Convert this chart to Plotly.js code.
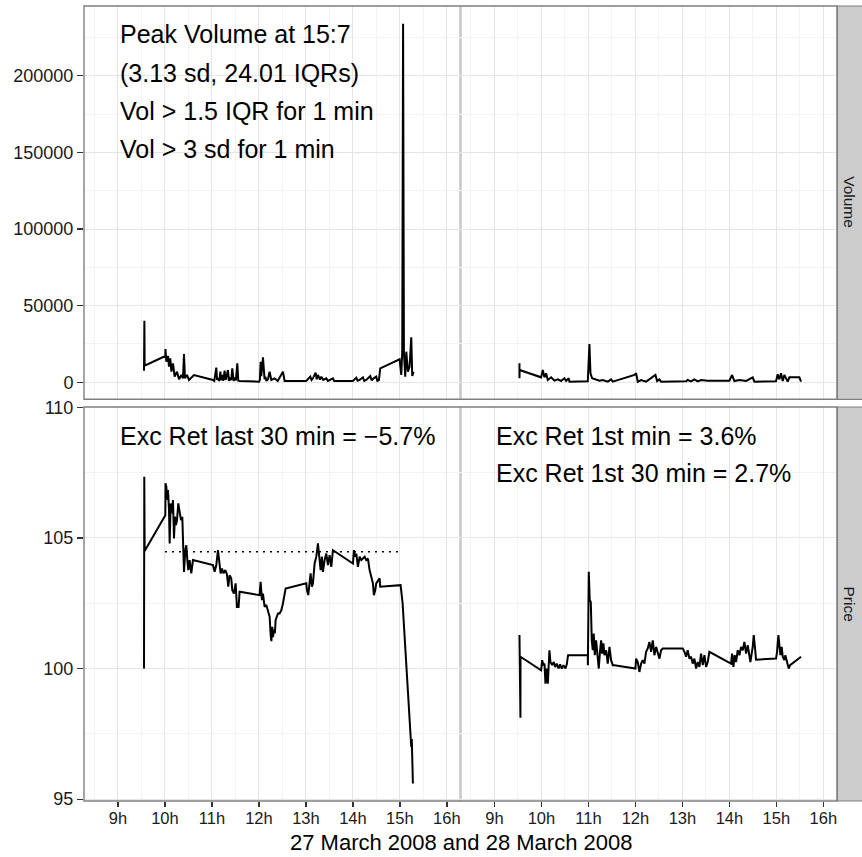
<!DOCTYPE html>
<html>
<head>
<meta charset="utf-8">
<script src="https://cdn.plot.ly/plotly-3.0.1.min.js"></script>
<style>html,body{margin:0;padding:0;background:#fff;}#chart{width:862px;height:857px;}</style>
</head>
<body>
<div id="chart"></div>
<script>
// ---------- data (hours of the trading day, decimal) ----------
const hourTicks = [9, 10, 11, 12, 13, 14, 15, 16];
const hourLabels = ["9h", "10h", "11h", "12h", "13h", "14h", "15h", "16h"];
const volumeTicks = [0, 50000, 100000, 150000, 200000];
const volumeLabels = ["0", "50000", "100000", "150000", "200000"];
const priceTicks = [95, 100, 105, 110];
const priceLabels = ["95", "100", "105", "110"];
const rowLabels = ["Volume", "Price"];
const xTitle = "27 March 2008 and 28 March 2008";

// Day 1 (27 March 2008) volume
const vol1Time = [9.554, 9.562, 9.568, 10.008, 10.010, 10.029, 10.065, 10.086, 10.114, 10.136, 10.171, 10.206, 10.256, 10.299, 10.348, 10.384, 10.405, 10.426, 10.469, 10.511, 10.618, 11.022,
  11.05, 11.093, 11.11, 11.128, 11.16, 11.178, 11.2, 11.221, 11.24, 11.27, 11.29, 11.306, 11.341, 11.36, 11.377, 11.41, 11.433, 11.46, 11.483, 11.51, 11.54, 11.56, 11.589,
  12.001, 12.02, 12.036, 12.05, 12.086, 12.107, 12.12, 12.136, 12.16, 12.192, 12.228, 12.263, 12.334, 12.40, 12.511, 12.547,
  13.008, 13.093, 13.12, 13.15, 13.206, 13.23, 13.256, 13.3, 13.327, 13.37, 13.433, 13.47, 13.504, 13.575, 13.60,
  14.001, 14.072, 14.1, 14.143, 14.213, 14.24, 14.284, 14.37, 14.40, 14.44, 14.497, 14.52, 14.554, 14.582,
  14.994, 15.029, 15.05, 15.068, 15.086, 15.114, 15.136, 15.171, 15.206, 15.242, 15.263, 15.291];
const vol1Value = [7585, 40190, 10850, 17150, 21710, 13450, 17150, 10190, 15630, 6930, 12370, 3670, 6930, 1935, 4760, 2590, 18450, 2590, 4760, 1500, 4760, 1500,
  850, 9540, 1500, 2590, 900, 6930, 1500, 4760, 900, 7585, 1500, 3000, 8020, 900, 2590, 1500, 9110, 900, 3000, 1200, 12370, 1000, 850,
  410, 1500, 13450, 4000, 16280, 10190, 2000, 3670, 900, 2000, 6930, 1500, 2590, 850, 6930, 850,
  850, 3670, 1500, 2590, 6280, 2000, 4760, 1800, 3670, 1500, 2590, 900, 1500, 2590, 850,
  850, 3020, 1000, 1500, 3240, 900, 1500, 4110, 1200, 2590, 3670, 1000, 1500, 9110,
  14980, 4760, 20000, 234000, 18900, 3670, 19970, 6930, 10190, 29320, 4110, 6930];

// Day 2 (28 March 2008) volume
const vol2Time = [9.532, 9.532, 9.535, 9.993, 10.028, 10.064, 10.099, 10.135, 10.206, 10.277, 10.348, 10.418, 10.489, 10.525, 10.582, 10.596,
  10.986, 11.021, 11.043, 11.078, 11.128, 11.234, 11.305, 11.411, 11.482, 11.518,
  11.979, 12.014, 12.050, 12.121, 12.227, 12.426, 12.461, 12.511, 12.546,
  13.078, 13.113, 13.184, 13.255, 13.326, 13.397, 13.539, 14.0, 14.057, 14.106, 14.213, 14.355, 14.496, 14.532,
  14.993, 15.028, 15.064, 15.099, 15.135, 15.170, 15.241, 15.277, 15.489, 15.525];
const vol2Value = [12370, 2590, 8020, 3240, 8020, 3240, 5850, 1500, 3240, 1065, 1935, 850, 2590, 850, 2590, 410,
  630, 24970, 5850, 2590, 1935, 1065, 1500, 410, 1935, 410,
  4760, 5850, 410, 1500, 410, 4760, 850, 1935, 410,
  630, 1500, 630, 1935, 630, 1500, 1065, 1065, 4760, 850, 1500, 850, 3240, 410,
  630, 5200, 1935, 5850, 850, 4760, 410, 3240, 3240, 410];

// Day 1 price
const price1Time = [9.554, 9.560, 9.568, 10.008, 10.012, 10.029, 10.050, 10.065, 10.086, 10.100, 10.121, 10.149, 10.171, 10.192, 10.213, 10.235, 10.256, 10.284, 10.313, 10.341, 10.369,
  10.384, 10.405, 10.433, 10.454, 10.476, 10.497, 10.525, 10.560, 10.596,
  11.022, 11.057, 11.093, 11.128, 11.164, 11.185, 11.213, 11.248, 11.284, 11.319, 11.348, 11.376, 11.411, 11.433, 11.468, 11.504, 11.532, 11.567, 11.589,
  12.014, 12.036, 12.064, 12.086, 12.121, 12.157, 12.192, 12.228, 12.249, 12.265, 12.284, 12.30, 12.320, 12.34, 12.355, 12.405, 12.440, 12.476, 12.511, 12.547, 12.568,
  13.008, 13.022, 13.050, 13.079, 13.100, 13.128, 13.150, 13.185, 13.221, 13.256, 13.270, 13.291, 13.313, 13.341, 13.362, 13.398, 13.433, 13.469, 13.504, 13.540, 13.575,
  14.001, 14.022, 14.050, 14.072, 14.107, 14.143, 14.178, 14.213, 14.249, 14.284, 14.320, 14.355, 14.391, 14.426, 14.447, 14.476, 14.497, 14.532, 14.568, 14.582,
  15.015, 15.058, 15.09, 15.11, 15.13, 15.157, 15.185, 15.206, 15.228, 15.242, 15.253, 15.264, 15.277];
const price1Value = [100.00, 107.34, 104.50, 105.87, 107.09, 106.96, 106.45, 106.83, 106.07, 104.79, 106.32, 105.94, 106.45, 104.98, 105.81, 105.49, 105.68, 106.32, 105.87, 105.68, 105.81,
  105.04, 103.70, 104.53, 104.72, 104.15, 103.77, 104.15, 103.64, 104.15,
  103.96, 103.70, 103.96, 104.53, 104.02, 103.64, 103.83, 103.64, 103.77, 103.61, 103.13, 103.57, 103.45, 103.00, 102.87, 103.26, 102.36, 102.36, 102.94,
  102.81, 103.32, 102.62, 102.87, 102.36, 102.43, 102.23, 101.98, 101.30, 101.05, 101.60, 101.20, 101.50, 101.35, 101.85, 102.11, 102.11, 102.23, 102.49, 102.94, 103.06,
  103.26, 103.00, 102.81, 103.26, 103.64, 103.13, 103.26, 104.02, 104.28, 104.79, 104.53, 104.15, 103.77, 104.28, 103.70, 104.15, 104.40, 103.96, 104.34, 103.89, 104.53,
  104.02, 104.53, 104.28, 104.40, 103.89, 104.28, 104.15, 104.21, 104.28, 104.15, 104.21, 103.77, 103.51, 103.26, 102.81, 103.00, 103.26, 103.38, 103.45, 103.13,
  103.19, 102.50, 101.60, 100.80, 100.30, 99.56, 98.60, 98.00, 97.60, 97.00, 97.30, 96.60, 95.60];

// Day 2 price
const price2Time = [9.532, 9.553, 9.554, 9.993, 10.014, 10.043, 10.064, 10.085, 10.113, 10.135, 10.170, 10.191, 10.227, 10.262, 10.291, 10.326, 10.362, 10.397, 10.433, 10.468, 10.511, 10.539, 10.567,
  10.986, 10.988, 11.007, 11.028, 11.050, 11.071, 11.092, 11.113, 11.135, 11.163, 11.184, 11.220, 11.248, 11.270, 11.291, 11.319, 11.340, 11.376, 11.411, 11.447, 11.482, 11.518, 11.553,
  12.0, 12.014, 12.050, 12.085, 12.121, 12.156, 12.191, 12.227, 12.262, 12.298, 12.333, 12.369, 12.404, 12.440, 12.475, 12.511, 12.546, 12.582,
  13.007, 13.043, 13.078, 13.113, 13.149, 13.184, 13.220, 13.255, 13.291, 13.326, 13.362, 13.397, 13.433, 13.468, 13.504, 13.539, 13.574,
  14.035, 14.057, 14.085, 14.113, 14.142, 14.177, 14.213, 14.248, 14.284, 14.319, 14.355, 14.390, 14.426, 14.447, 14.496, 14.518, 14.546, 14.567,
  14.993, 15.014, 15.043, 15.064, 15.085, 15.113, 15.135, 15.170, 15.191, 15.227, 15.262, 15.291, 15.525];
const price2Value = [101.28, 98.12, 100.45, 99.93, 100.32, 100.13, 100.19, 99.42, 100.00, 99.42, 100.70, 100.25, 100.13, 100.25, 100.06, 100.19, 100.00, 100.16, 100.00, 100.13, 100.00, 100.16, 100.51,
  100.51, 100.13, 103.70, 102.62, 102.55, 101.08, 100.70, 101.34, 100.51, 101.08, 100.70, 100.00, 100.70, 101.08, 100.57, 100.96, 100.51, 100.70, 100.19, 100.83, 100.32, 100.13, 100.13,
  100.00, 100.38, 100.25, 99.87, 100.19, 100.32, 100.19, 100.64, 100.77, 101.02, 100.64, 101.08, 100.51, 100.83, 100.57, 100.38, 100.70, 100.77,
  100.77, 100.64, 100.45, 100.70, 100.38, 100.45, 100.19, 100.38, 100.00, 100.25, 100.06, 100.57, 100.13, 100.51, 100.06, 100.25, 100.64,
  100.19, 100.57, 100.06, 100.51, 100.25, 100.70, 100.51, 100.83, 100.70, 101.02, 100.57, 100.89, 100.51, 100.25, 100.83, 101.28, 100.77, 100.34,
  100.38, 100.64, 101.28, 100.70, 100.51, 100.83, 100.45, 100.32, 100.51, 100.25, 100.00, 100.13, 100.45];

// Reference level (dotted) on day 1
const refTime = [10.0, 15.0];
const refPrice = [104.47, 104.47];

// Panel texts
const volText = ["Peak Volume at 15:7", "(3.13 sd, 24.01 IQRs)", "Vol > 1.5 IQR for 1 min", "Vol > 3 sd for 1 min"];
const volTextY = [227000, 202000, 177000, 152000];
const priceText1 = ["Exc Ret last 30 min = \u22125.7%"];
const priceText1Y = [108.9];
const priceText2 = ["Exc Ret 1st min = 3.6%", "Exc Ret 1st 30 min = 2.7%"];
const priceText2Y = [108.9, 107.5];

// ---------- styling ----------
const FONT = "Liberation Sans, Arial, Helvetica, sans-serif";
const lineStyle = {color: "#000000", width: 2};
const xRange = [8.277, 16.29];
const minorHours = [8.5, 9.5, 10.5, 11.5, 12.5, 13.5, 14.5, 15.5, 16.5];

const traces = [
  {x: vol1Time, y: vol1Value, xaxis: "x3", yaxis: "y3", mode: "lines", line: lineStyle, hoverinfo: "skip"},
  {x: vol2Time, y: vol2Value, xaxis: "x4", yaxis: "y4", mode: "lines", line: lineStyle, hoverinfo: "skip"},
  {x: price1Time, y: price1Value, xaxis: "x", yaxis: "y", mode: "lines", line: lineStyle, hoverinfo: "skip"},
  {x: price2Time, y: price2Value, xaxis: "x2", yaxis: "y2", mode: "lines", line: lineStyle, hoverinfo: "skip"},
  {x: refTime, y: refPrice, xaxis: "x", yaxis: "y", mode: "lines", line: {color: "#000000", width: 1.6, dash: "2px,5px"}, hoverinfo: "skip"}
];

const gridMajor = "#E5E5E5";
const gridMinor = "#F3F3F3";
const tickFontY = {family: FONT, size: 18, color: "#1a1a1a"};
const tickFontX = {family: FONT, size: 16.5, color: "#1a1a1a"};

function xAxis(domain, anchor, showLabels) {
  return {
    domain: domain, anchor: anchor, range: xRange, tickmode: "array", tickvals: hourTicks, ticktext: hourLabels,
    showticklabels: showLabels, ticks: showLabels ? "outside" : "", ticklen: 5, tickwidth: 1.3, tickcolor: "#333333",
    ticklabelstandoff: -3,
    tickfont: tickFontX, showgrid: true, gridcolor: gridMajor, gridwidth: 1, zeroline: false, showline: false,
    minor: {tickmode: "array", tickvals: minorHours, showgrid: true, gridcolor: gridMinor, gridwidth: 1, ticks: ""},
    fixedrange: true
  };
}
function yAxis(domain, anchor, range, tv, tt, minorVals, showLabels) {
  return {
    domain: domain, anchor: anchor, range: range, tickmode: "array", tickvals: tv, ticktext: tt,
    showticklabels: showLabels, ticks: showLabels ? "outside" : "", ticklen: 6, tickwidth: 1.3, tickcolor: "#333333",
    tickfont: tickFontY, showgrid: true, gridcolor: gridMajor, gridwidth: 1, zeroline: false, showline: false,
    minor: {tickmode: "array", tickvals: minorVals, showgrid: true, gridcolor: gridMinor, gridwidth: 1, ticks: ""},
    fixedrange: true
  };
}

const priceDom = [0, 0.4956];
const volDom = [0.5053, 1];
const volRange = [-11090, 245500];
const priceRange = [94.93, 110.01];

const annFont = {family: FONT, size: 25, color: "#000"};
const annotations = [];
volText.forEach((t, i) => annotations.push({xref: "x3", yref: "y3", x: 9.0, y: volTextY[i], text: t, showarrow: false, xanchor: "left", yanchor: "middle", font: annFont}));
priceText1.forEach((t, i) => annotations.push({xref: "x", yref: "y", x: 9.0, y: priceText1Y[i], text: t, showarrow: false, xanchor: "left", yanchor: "middle", font: annFont}));
priceText2.forEach((t, i) => annotations.push({xref: "x2", yref: "y2", x: 9.0, y: priceText2Y[i], text: t, showarrow: false, xanchor: "left", yanchor: "middle", font: annFont}));
// strip labels
annotations.push({xref: "paper", yref: "paper", x: 1.0166, y: (volDom[0] + volDom[1]) / 2, text: rowLabels[0], textangle: 90, showarrow: false, xanchor: "center", yanchor: "middle", font: {family: FONT, size: 15.5, color: "#1a1a1a"}});
annotations.push({xref: "paper", yref: "paper", x: 1.0166, y: (priceDom[0] + priceDom[1]) / 2, text: rowLabels[1], textangle: 90, showarrow: false, xanchor: "center", yanchor: "middle", font: {family: FONT, size: 15.5, color: "#1a1a1a"}});
// x axis title
annotations.push({xref: "paper", yref: "paper", x: 0.5, y: -0.0516, text: xTitle, showarrow: false, xanchor: "center", yanchor: "middle", font: {family: FONT, size: 22, color: "#000"}});

const border = "#7F7F7F";
const shapes = [
  // strips
  {type: "rect", xref: "paper", yref: "paper", x0: 1.0005, x1: 1.04, y0: volDom[0], y1: volDom[1], fillcolor: "#CCCCCC", line: {color: border, width: 1.2}, layer: "below"},
  {type: "rect", xref: "paper", yref: "paper", x0: 1.0005, x1: 1.04, y0: priceDom[0], y1: priceDom[1], fillcolor: "#CCCCCC", line: {color: border, width: 1.2}, layer: "below"},
  // column separators
  {type: "line", xref: "paper", yref: "paper", x0: 0.5, x1: 0.5, y0: volDom[0], y1: volDom[1], line: {color: "#C8C8C8", width: 2.5}, layer: "below"},
  {type: "line", xref: "paper", yref: "paper", x0: 0.5, x1: 0.5, y0: priceDom[0], y1: priceDom[1], line: {color: "#C8C8C8", width: 2.5}, layer: "below"},
  // panel borders
  {type: "rect", xref: "paper", yref: "paper", x0: 0, x1: 1, y0: volDom[0], y1: volDom[1], line: {color: border, width: 1.4}, fillcolor: "rgba(0,0,0,0)"},
  {type: "rect", xref: "paper", yref: "paper", x0: 0, x1: 1, y0: priceDom[0], y1: priceDom[1], line: {color: border, width: 1.4}, fillcolor: "rgba(0,0,0,0)"}
];

const layout = {
  width: 862, height: 857,
  margin: {l: 84, r: 25, t: 6, b: 56, pad: 0},
  paper_bgcolor: "#FFFFFF", plot_bgcolor: "#FFFFFF",
  showlegend: false,
  font: {family: FONT, color: "#000"},
  xaxis: xAxis([0, 0.5], "y", true),
  xaxis2: xAxis([0.5, 1], "y2", true),
  xaxis3: xAxis([0, 0.5], "y3", false),
  xaxis4: xAxis([0.5, 1], "y4", false),
  yaxis: yAxis(priceDom, "x", priceRange, priceTicks, priceLabels, [97.5, 102.5, 107.5], true),
  yaxis2: yAxis(priceDom, "x2", priceRange, priceTicks, priceLabels, [97.5, 102.5, 107.5], false),
  yaxis3: yAxis(volDom, "x3", volRange, volumeTicks, volumeLabels, [25000, 75000, 125000, 175000, 225000], true),
  yaxis4: yAxis(volDom, "x4", volRange, volumeTicks, volumeLabels, [25000, 75000, 125000, 175000, 225000], false),
  annotations: annotations,
  shapes: shapes
};

Plotly.newPlot("chart", traces, layout, {staticPlot: true, displayModeBar: false});
</script>
</body>
</html>
